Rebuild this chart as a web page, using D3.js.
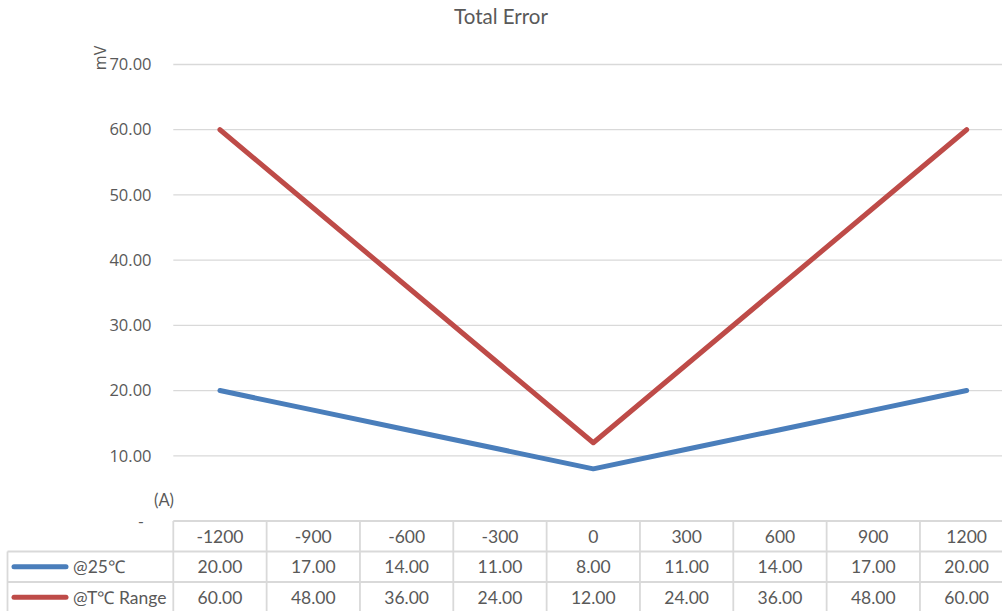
<!DOCTYPE html>
<html>
<head>
<meta charset="utf-8">
<script src="https://cdn.jsdelivr.net/npm/d3@7/dist/d3.min.js"></script>
<style>
  html, body { margin: 0; padding: 0; background: #fff; overflow: hidden; }
  svg { display: block; }
</style>
</head>
<body>
<svg id="chart" width="1002" height="611"></svg>
<script>
// Load current (A) and the total error figures (mV)
const categories = ["-1200", "-900", "-600", "-300", "0", "300", "600", "900", "1200"];
const seriesNames = ["@25\u2103", "@T\u2103 Range"];
const at25 = [20, 17, 14, 11, 8, 11, 14, 17, 20];
const atRange = [60, 48, 36, 24, 12, 24, 36, 48, 60];
const yTicks = [0, 10, 20, 30, 40, 50, 60, 70];
const colors = ["#4a7ebb", "#be4b48"];

const series = [
  { name: seriesNames[0], values: at25, color: colors[0] },
  { name: seriesNames[1], values: atRange, color: colors[1] }
];

const svg = d3.select("#chart");
const W = 1002, H = 611;
const plotLeft = 173.3, plotRight = 1013.3;
const yTop = 64.5, yZero = 521;
const rowH = 30.5;
const tableLeft = 7.5;

const x = d3.scaleBand().domain(categories).range([plotLeft, plotRight]);
const y = d3.scaleLinear().domain([0, 70]).range([yZero, yTop]);

const textColor = "#595959";
const gridColor = "#d9d9d9";
const tableFont = "Lato, 'Open Sans', sans-serif";
const axisFont = "'Open Sans', sans-serif";
const tableSize = 17.5;

// Title
svg.append("text")
  .attr("x", 501).attr("y", 24)
  .attr("text-anchor", "middle")
  .attr("font-family", tableFont)
  .attr("font-size", 20.5)
  .attr("fill", textColor)
  .text("Total Error");

// Horizontal gridlines (the zero line is the table's top edge)
svg.append("g").selectAll("line")
  .data(yTicks.filter(d => d > 0))
  .join("line")
  .attr("x1", plotLeft).attr("x2", W)
  .attr("y1", d => y(d)).attr("y2", d => y(d))
  .attr("stroke", gridColor).attr("stroke-width", 1.3);

// Y tick labels
svg.append("g").selectAll("text")
  .data(yTicks)
  .join("text")
  .attr("x", d => d === 0 ? 141 : 151.5)
  .attr("y", d => y(d))
  .attr("dy", "0.35em")
  .attr("text-anchor", d => d === 0 ? "middle" : "end")
  .attr("font-family", axisFont)
  .attr("font-size", 16.5)
  .attr("fill", textColor)
  .text(d => d === 0 ? "-" : d3.format(".2f")(d));

// Y axis unit
svg.append("text")
  .attr("transform", `translate(106,58) rotate(-90)`)
  .attr("text-anchor", "middle")
  .attr("font-family", axisFont)
  .attr("font-size", 16)
  .attr("fill", textColor)
  .text("mV");

// X axis unit
svg.append("text")
  .attr("x", 164).attr("y", 506)
  .attr("text-anchor", "middle")
  .attr("font-family", tableFont)
  .attr("font-size", 16.5)
  .attr("fill", textColor)
  .text("(A)");

// Series lines
const line = d3.line()
  .x((d, i) => x(categories[i]) + x.bandwidth() / 2)
  .y(d => y(d));

svg.append("g").selectAll("path")
  .data(series)
  .join("path")
  .attr("d", s => line(s.values))
  .attr("fill", "none")
  .attr("stroke", s => s.color)
  .attr("stroke-width", 5)
  .attr("stroke-linejoin", "round")
  .attr("stroke-linecap", "round");

// Data table
const table = svg.append("g");
const rowTops = [yZero, yZero + rowH, yZero + 2 * rowH];
const tableBottom = yZero + 3 * rowH;
const borderW = 1.8;

// horizontal borders
table.append("line")
  .attr("x1", plotLeft).attr("x2", W)
  .attr("y1", rowTops[0]).attr("y2", rowTops[0])
  .attr("stroke", gridColor).attr("stroke-width", borderW);
[rowTops[1], rowTops[2], tableBottom].forEach(yy => {
  table.append("line")
    .attr("x1", tableLeft).attr("x2", W)
    .attr("y1", yy).attr("y2", yy)
    .attr("stroke", gridColor).attr("stroke-width", borderW);
});
// vertical borders
categories.forEach(c => {
  table.append("line")
    .attr("x1", x(c)).attr("x2", x(c))
    .attr("y1", rowTops[0]).attr("y2", tableBottom)
    .attr("stroke", gridColor).attr("stroke-width", borderW);
});
table.append("line")
  .attr("x1", tableLeft).attr("x2", tableLeft)
  .attr("y1", rowTops[1]).attr("y2", tableBottom)
  .attr("stroke", gridColor).attr("stroke-width", borderW);

// header row: categories
table.append("g").selectAll("text")
  .data(categories)
  .join("text")
  .attr("x", d => x(d) + x.bandwidth() / 2)
  .attr("y", rowTops[0] + rowH / 2)
  .attr("dy", "0.36em")
  .attr("text-anchor", "middle")
  .attr("font-family", tableFont)
  .attr("font-size", tableSize)
  .attr("fill", textColor)
  .text(d => d);

// series rows
series.forEach((s, si) => {
  const top = rowTops[si + 1];
  const mid = top + rowH / 2;
  table.append("line")
    .attr("x1", 14).attr("x2", 66)
    .attr("y1", mid).attr("y2", mid)
    .attr("stroke", s.color).attr("stroke-width", 5)
    .attr("stroke-linecap", "round");
  table.append("text")
    .attr("x", 73).attr("y", mid)
    .attr("dy", "0.36em")
    .attr("font-family", tableFont)
    .attr("font-size", tableSize)
    .attr("fill", textColor)
    .text(s.name);
  table.append("g").selectAll("text")
    .data(s.values)
    .join("text")
    .attr("x", (d, i) => x(categories[i]) + x.bandwidth() / 2)
    .attr("y", mid)
    .attr("dy", "0.36em")
    .attr("text-anchor", "middle")
    .attr("font-family", tableFont)
    .attr("font-size", tableSize)
    .attr("fill", textColor)
    .text(d => d3.format(".2f")(d));
});
</script>
</body>
</html>
